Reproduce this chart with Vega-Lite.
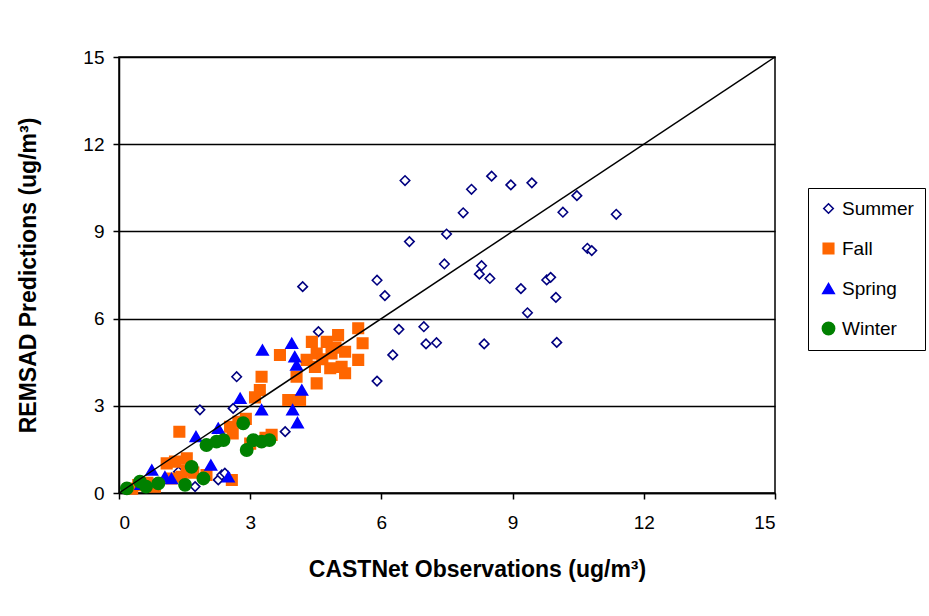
{
  "$schema": "https://vega.github.io/schema/vega-lite/v6.json",
  "width": 656,
  "height": 436,
  "autosize": {"type": "none"},
  "padding": {"left": 119, "top": 57, "right": 154, "bottom": 123},
  "background": "white",
  "config": {
    "font": "Liberation Sans",
    "view": {"stroke": "black", "strokeWidth": 1.5},
    "axis": {
      "domainColor": "black",
      "domainWidth": 1.5,
      "tickColor": "black",
      "tickWidth": 1.5,
      "tickSize": 6,
      "labelColor": "black",
      "labelFontSize": 19,
      "labelFont": "Liberation Sans",
      "titleFont": "Liberation Sans",
      "titleFontSize": 23,
      "titleFontWeight": "bold",
      "titleColor": "black"
    }
  },
  "datasets": {
    "pts": [
      {"season": "Summer", "obs": 6.54, "pred": 10.75},
      {"season": "Summer", "obs": 8.06, "pred": 10.45},
      {"season": "Summer", "obs": 8.52, "pred": 10.9},
      {"season": "Summer", "obs": 8.96, "pred": 10.6},
      {"season": "Summer", "obs": 9.44, "pred": 10.67},
      {"season": "Summer", "obs": 7.87, "pred": 9.64},
      {"season": "Summer", "obs": 10.47, "pred": 10.23},
      {"season": "Summer", "obs": 10.15, "pred": 9.66},
      {"season": "Summer", "obs": 11.37, "pred": 9.59},
      {"season": "Summer", "obs": 6.64, "pred": 8.65},
      {"season": "Summer", "obs": 7.49, "pred": 8.91},
      {"season": "Summer", "obs": 7.44, "pred": 7.88},
      {"season": "Summer", "obs": 8.29, "pred": 7.82},
      {"season": "Summer", "obs": 8.24, "pred": 7.53},
      {"season": "Summer", "obs": 8.48, "pred": 7.38},
      {"season": "Summer", "obs": 10.71, "pred": 8.42},
      {"season": "Summer", "obs": 10.81, "pred": 8.34},
      {"season": "Summer", "obs": 9.78, "pred": 7.33},
      {"season": "Summer", "obs": 9.87, "pred": 7.42},
      {"season": "Summer", "obs": 9.19, "pred": 7.03},
      {"season": "Summer", "obs": 9.99, "pred": 6.73},
      {"season": "Summer", "obs": 9.34, "pred": 6.2},
      {"season": "Summer", "obs": 6.08, "pred": 6.79},
      {"season": "Summer", "obs": 5.9, "pred": 7.32},
      {"season": "Summer", "obs": 4.2, "pred": 7.1},
      {"season": "Summer", "obs": 6.4, "pred": 5.63},
      {"season": "Summer", "obs": 6.97, "pred": 5.72},
      {"season": "Summer", "obs": 7.02, "pred": 5.13},
      {"season": "Summer", "obs": 7.26, "pred": 5.17},
      {"season": "Summer", "obs": 8.35, "pred": 5.13},
      {"season": "Summer", "obs": 10.01, "pred": 5.18},
      {"season": "Summer", "obs": 6.26, "pred": 4.75},
      {"season": "Summer", "obs": 5.9, "pred": 3.85},
      {"season": "Summer", "obs": 4.56, "pred": 5.55},
      {"season": "Summer", "obs": 2.69, "pred": 4.0},
      {"season": "Summer", "obs": 1.85, "pred": 2.86},
      {"season": "Summer", "obs": 2.61, "pred": 2.91},
      {"season": "Summer", "obs": 3.8, "pred": 2.11},
      {"season": "Summer", "obs": 2.27, "pred": 0.45},
      {"season": "Summer", "obs": 2.35, "pred": 0.62},
      {"season": "Summer", "obs": 2.42, "pred": 0.68},
      {"season": "Summer", "obs": 1.74, "pred": 0.22},
      {"season": "Summer", "obs": 1.36, "pred": 0.73},
      {"season": "Summer", "obs": 0.6, "pred": 0.25},
      {"season": "Fall", "obs": 5.47, "pred": 5.67},
      {"season": "Fall", "obs": 5.57, "pred": 5.15},
      {"season": "Fall", "obs": 5.01, "pred": 5.43},
      {"season": "Fall", "obs": 4.75, "pred": 5.2},
      {"season": "Fall", "obs": 4.41, "pred": 5.2},
      {"season": "Fall", "obs": 3.68, "pred": 4.75},
      {"season": "Fall", "obs": 4.52, "pred": 4.8},
      {"season": "Fall", "obs": 4.86, "pred": 4.8},
      {"season": "Fall", "obs": 5.17, "pred": 4.86},
      {"season": "Fall", "obs": 5.47, "pred": 4.58},
      {"season": "Fall", "obs": 5.09, "pred": 4.34},
      {"season": "Fall", "obs": 4.83, "pred": 4.29},
      {"season": "Fall", "obs": 4.48, "pred": 4.34},
      {"season": "Fall", "obs": 5.17, "pred": 4.12},
      {"season": "Fall", "obs": 4.52, "pred": 3.77},
      {"season": "Fall", "obs": 4.29, "pred": 4.58},
      {"season": "Fall", "obs": 4.06, "pred": 4.0},
      {"season": "Fall", "obs": 3.87, "pred": 3.2},
      {"season": "Fall", "obs": 4.14, "pred": 3.2},
      {"season": "Fall", "obs": 3.26, "pred": 4.0},
      {"season": "Fall", "obs": 3.22, "pred": 3.54},
      {"season": "Fall", "obs": 3.11, "pred": 3.29},
      {"season": "Fall", "obs": 4.95, "pred": 5.0},
      {"season": "Fall", "obs": 4.65, "pred": 4.6},
      {"season": "Fall", "obs": 1.38, "pred": 2.11},
      {"season": "Fall", "obs": 1.09, "pred": 1.02},
      {"season": "Fall", "obs": 1.28, "pred": 1.08},
      {"season": "Fall", "obs": 1.55, "pred": 1.19},
      {"season": "Fall", "obs": 1.43, "pred": 0.56},
      {"season": "Fall", "obs": 2.58, "pred": 0.45},
      {"season": "Fall", "obs": 3.49, "pred": 2.0},
      {"season": "Fall", "obs": 3.0, "pred": 1.7},
      {"season": "Fall", "obs": 2.54, "pred": 2.28},
      {"season": "Fall", "obs": 2.73, "pred": 2.45},
      {"season": "Fall", "obs": 2.9, "pred": 2.55},
      {"season": "Fall", "obs": 2.6, "pred": 2.05},
      {"season": "Fall", "obs": 3.35, "pred": 1.9},
      {"season": "Fall", "obs": 0.44, "pred": 0.27},
      {"season": "Fall", "obs": 0.82, "pred": 0.22},
      {"season": "Fall", "obs": 0.3, "pred": 0.15},
      {"season": "Fall", "obs": 0.65, "pred": 0.35},
      {"season": "Fall", "obs": 1.2, "pred": 0.5},
      {"season": "Fall", "obs": 1.7, "pred": 0.7},
      {"season": "Fall", "obs": 2.0, "pred": 0.62},
      {"season": "Fall", "obs": 1.55, "pred": 0.78},
      {"season": "Spring", "obs": 3.28, "pred": 4.92},
      {"season": "Spring", "obs": 3.95, "pred": 5.15},
      {"season": "Spring", "obs": 4.02, "pred": 4.69},
      {"season": "Spring", "obs": 4.06, "pred": 4.4},
      {"season": "Spring", "obs": 4.18, "pred": 3.54},
      {"season": "Spring", "obs": 2.77, "pred": 3.26},
      {"season": "Spring", "obs": 3.26, "pred": 2.86},
      {"season": "Spring", "obs": 3.97, "pred": 2.86},
      {"season": "Spring", "obs": 4.08, "pred": 2.42},
      {"season": "Spring", "obs": 1.76, "pred": 1.94},
      {"season": "Spring", "obs": 2.27, "pred": 2.23},
      {"season": "Spring", "obs": 2.1, "pred": 0.96},
      {"season": "Spring", "obs": 2.5, "pred": 0.56},
      {"season": "Spring", "obs": 0.75, "pred": 0.79},
      {"season": "Spring", "obs": 1.05, "pred": 0.56},
      {"season": "Spring", "obs": 1.2, "pred": 0.5},
      {"season": "Spring", "obs": 0.5, "pred": 0.3},
      {"season": "Winter", "obs": 2.84, "pred": 2.4},
      {"season": "Winter", "obs": 2.0, "pred": 1.65},
      {"season": "Winter", "obs": 2.23, "pred": 1.77},
      {"season": "Winter", "obs": 2.39, "pred": 1.82},
      {"season": "Winter", "obs": 3.07, "pred": 1.82},
      {"season": "Winter", "obs": 3.26, "pred": 1.77},
      {"season": "Winter", "obs": 3.44, "pred": 1.82},
      {"season": "Winter", "obs": 2.92, "pred": 1.48},
      {"season": "Winter", "obs": 1.66, "pred": 0.9},
      {"season": "Winter", "obs": 1.93, "pred": 0.5},
      {"season": "Winter", "obs": 1.51, "pred": 0.28},
      {"season": "Winter", "obs": 0.9, "pred": 0.33},
      {"season": "Winter", "obs": 0.48, "pred": 0.39},
      {"season": "Winter", "obs": 0.18, "pred": 0.16},
      {"season": "Winter", "obs": 0.62, "pred": 0.22}
    ],
    "diag": [
      {"obs": 0, "pred": 0},
      {"obs": 15, "pred": 15}
    ]
  },
  "layer": [
    {
      "data": {"name": "pts"},
      "mark": {"type": "point", "filled": false, "opacity": 1, "strokeWidth": 1.6},
      "encoding": {
        "x": {
          "field": "obs", "type": "quantitative",
          "scale": {"domain": [0, 15], "nice": false},
          "axis": {"values": [0, 3, 6, 9, 12, 15], "grid": false, "labelPadding": 14, "title": "CASTNet Observations (ug/m³)", "titlePadding": 26, "titleX": 358}
        },
        "y": {
          "field": "pred", "type": "quantitative",
          "scale": {"domain": [0, 15], "nice": false},
          "axis": {"values": [0, 3, 6, 9, 12, 15], "grid": true, "gridColor": "black", "gridWidth": 1.5, "gridOpacity": 1, "labelPadding": 9, "title": "REMSAD Predictions (ug/m³)", "titlePadding": 42}
        },
        "shape": {
          "field": "season", "type": "nominal",
          "scale": {"domain": ["Summer", "Fall", "Spring", "Winter"], "range": ["diamond", "square", "triangle-up", "circle"]},
          "legend": {
            "title": null,
            "orient": "none",
            "legendX": 689,
            "legendY": 131,
            "strokeColor": "black",
            "fillColor": "white",
            "padding": 11,
            "labelFontSize": 19,
            "labelColor": "black",
            "labelFont": "Liberation Sans",
            "rowPadding": 20,
            "labelOffset": 4,
            "symbolStrokeWidth": 1.6,
            "symbolOpacity": 1
          }
        },
        "fill": {
          "field": "season", "type": "nominal",
          "scale": {"domain": ["Summer", "Fall", "Spring", "Winter"], "range": ["white", "#FF6600", "#0000FF", "#008000"]}
        },
        "stroke": {
          "field": "season", "type": "nominal",
          "scale": {"domain": ["Summer", "Fall", "Spring", "Winter"], "range": ["#000080", "#FF6600", "#0000FF", "#008000"]}
        },
        "size": {
          "field": "season", "type": "nominal",
          "scale": {"domain": ["Summer", "Fall", "Spring", "Winter"], "range": [90, 150, 140, 130]}
        }
      }
    },
    {
      "data": {"name": "diag"},
      "mark": {"type": "line", "color": "black", "strokeWidth": 1.5},
      "encoding": {
        "x": {"field": "obs", "type": "quantitative"},
        "y": {"field": "pred", "type": "quantitative"}
      }
    }
  ]
}
